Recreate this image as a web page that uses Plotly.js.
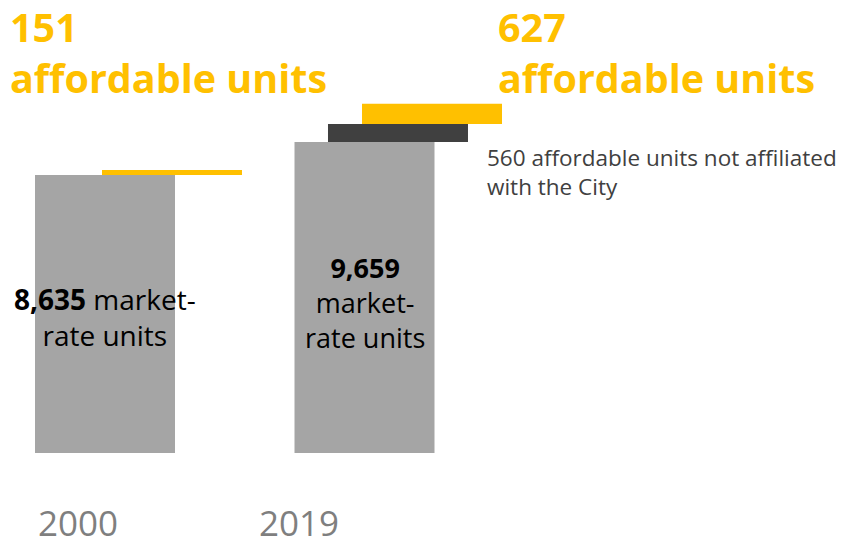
<!DOCTYPE html>
<html>
<head>
<meta charset="utf-8">
<script src="https://cdn.plot.ly/plotly-3.0.1.min.js"></script>
<style>html,body{margin:0;padding:0;background:#fff;}#chart{width:844px;height:546px;}</style>
</head>
<body>
<div id="chart"></div>
<script>
// Data
var years = ["2000", "2019"];
var marketRate = [8635, 9659];
var notAffiliated = [0, 560];
var affordable = [151, 627];
var yearLabels = ["2000", "2019"];
var affordableTitles = ["151", "627"];
var marketLabels = ["<b>8,635</b> market-<br>rate units", "<b>9,659</b><br>market-<br>rate units"];
var noteText = "560 affordable units not affiliated<br>with the City";

var W = 844, H = 546, plotH = 453;
function px(x) { return x / W; }
function py(y) { return 1 - y / plotH; }

var catStep = 259.5;       // px per category
var barW = 140 / catStep;  // bar width in category units
var x0 = -105 / catStep;
var xRange = [x0, x0 + W / catStep];
var k = 9659 / 311;        // value per px
var yMax = plotH * k;

var yellowBase = marketRate.map(function (v, i) { return v + notAffiliated[i]; });

var traces = [
  {
    type: "bar", x: years, y: marketRate, base: [0, 0],
    width: [barW, barW], offset: [-barW / 2, -barW / 2],
    marker: { color: "#A5A5A5" }, hoverinfo: "skip"
  },
  {
    type: "bar", x: years, y: notAffiliated, base: marketRate,
    width: [barW, barW], offset: [-0.1407, -0.1407],
    marker: { color: "#404040" }, hoverinfo: "skip"
  },
  {
    type: "bar", x: years, y: affordable, base: yellowBase,
    width: [barW, barW], offset: [-0.0116, -0.0096],
    marker: { color: "#FFC000" }, hoverinfo: "skip"
  }
];

var FONT = "'Open Sans', 'Noto Sans', sans-serif";
var yellow = "#FFC000";
var annotations = [];

// Big yellow titles
[[12, affordableTitles[0]], [500, affordableTitles[1]]].forEach(function (a) {
  annotations.push({
    xref: "paper", yref: "paper", x: px(a[0] - 3), y: py(52.5), xanchor: "left", yanchor: "middle",
    text: "<b>" + a[1] + "<br>affordable units</b>", align: "left", showarrow: false, borderpad: 0,
    font: { family: FONT, size: 39.5, color: yellow }
  });
});

// Note
annotations.push({
  xref: "paper", yref: "paper", x: px(486), y: py(172), xanchor: "left", yanchor: "middle",
  text: noteText, align: "left", showarrow: false, borderpad: 0,
  font: { family: FONT, size: 22.5, color: "#404040" }
});

// Market-rate labels
annotations.push({
  xref: "x", yref: "paper", x: 0, y: py(317), xanchor: "center", yanchor: "middle",
  text: marketLabels[0], align: "center", showarrow: false, borderpad: 0,
  font: { family: FONT, size: 28, color: "#000" }
});
annotations.push({
  xref: "x", yref: "paper", x: 1, y: py(302), xanchor: "center", yanchor: "middle",
  text: marketLabels[1], align: "center", showarrow: false, borderpad: 0,
  font: { family: FONT, size: 27, color: "#000" }
});

// Year labels
[[77.5, yearLabels[0]], [299, yearLabels[1]]].forEach(function (a) {
  annotations.push({
    xref: "paper", yref: "paper", x: px(a[0]), y: py(522), xanchor: "center", yanchor: "middle",
    text: a[1], showarrow: false, borderpad: 0, font: { family: FONT, size: 35, color: "#7F7F7F" }
  });
});

var layout = {
  width: W, height: H,
  margin: { l: 0, r: 0, t: 0, b: H - plotH, pad: 0 },
  paper_bgcolor: "#fff", plot_bgcolor: "#fff",
  barmode: "overlay", showlegend: false,
  xaxis: { type: "category", range: xRange, showticklabels: false, showgrid: false, zeroline: false, showline: false, ticks: "", fixedrange: true },
  yaxis: { range: [0, yMax], showticklabels: false, showgrid: false, zeroline: false, showline: false, ticks: "", fixedrange: true },
  annotations: annotations
};

Plotly.newPlot("chart", traces, layout, { displayModeBar: false, staticPlot: true });
</script>
</body>
</html>
